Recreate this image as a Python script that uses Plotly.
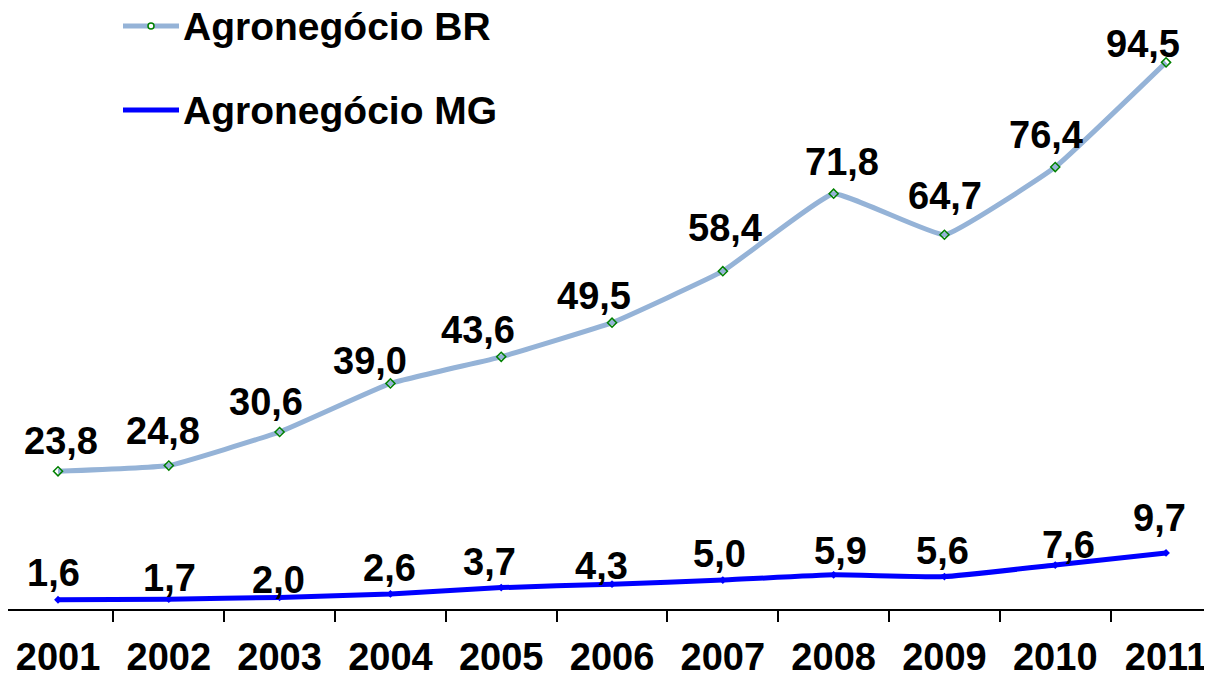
import plotly.graph_objects as go

# Agronegócio exports (US$ bilhões), Brasil vs Minas Gerais
anos = [2001, 2002, 2003, 2004, 2005, 2006, 2007, 2008, 2009, 2010, 2011]
agro_br = [23.8, 24.8, 30.6, 39.0, 43.6, 49.5, 58.4, 71.8, 64.7, 76.4, 94.5]
agro_mg = [1.6, 1.7, 2.0, 2.6, 3.7, 4.3, 5.0, 5.9, 5.6, 7.6, 9.7]
nomes = ["Agronegócio BR", "Agronegócio MG"]

# label nudges (px) - the labels were dragged around by hand in the original
br_dx = [3, -6, -14, -20, -23, -18, 2, 8, 1, -9, -23]
br_dy = [30, 35, 30, 22, 27, 27, 43, 32, 39, 32, 18]
mg_dx = [-5, 1, -1, -1, -12, -11, -3, 7, -2, 13, -7]
mg_dy = [27, 21, 17, 26, 26, 18, 26, 24, 26, 20, 35]

cor_br = "#95B3D7"
cor_mg = "#0000FF"
fonte = dict(family="Liberation Sans, Arial", size=38, color="black")
fonte_leg = dict(family="Liberation Sans, Arial", size=39, color="black")


def rotulo(v):
    return f"{v:.1f}".replace(".", ",")


fig = go.Figure()

fig.add_trace(go.Scatter(
    x=anos, y=agro_br, name=nomes[0], mode="lines+markers",
    line=dict(color=cor_br, width=5, shape="spline", smoothing=0.3),
    marker=dict(symbol="diamond-open", size=7, color="#008000", line=dict(width=1.5)),
    showlegend=False,
))
fig.add_trace(go.Scatter(
    x=anos, y=agro_mg, name=nomes[1], mode="lines+markers",
    line=dict(color=cor_mg, width=5, shape="spline", smoothing=0.3),
    marker=dict(symbol="diamond", size=6, color=cor_mg),
    showlegend=False,
))

anots = []
for serie, dxs, dys in [(agro_br, br_dx, br_dy), (agro_mg, mg_dx, mg_dy)]:
    for ano, v, dx, dy in zip(anos, serie, dxs, dys):
        anots.append(dict(x=ano, y=v, text=f"<b>{rotulo(v)}</b>", showarrow=False,
                          xanchor="center", yanchor="middle", xshift=dx, yshift=dy,
                          font=fonte))

# hand-made legend, top left (pixel positions inside the plot area)
W, H = 1212, 601
for i, (nome, cor) in enumerate(zip(nomes, [cor_br, cor_mg])):
    yp = [18, 102][i]
    fig.add_shape(type="line", xref="paper", yref="paper",
                  x0=115 / W, x1=171 / W, y0=(H - yp) / H, y1=(H - yp) / H,
                  line=dict(color=cor, width=5))
    anots.append(dict(xref="paper", yref="paper", x=173 / W, y=(H - yp - 1) / H,
                      text=f"<b>{nome}</b>", showarrow=False, xanchor="left",
                      yanchor="middle", font=fonte_leg))
fig.add_shape(type="circle", xref="paper", yref="paper",
              x0=140 / W, x1=146 / W, y0=(H - 21) / H, y1=(H - 15) / H,
              line=dict(color="#008000", width=1.5), fillcolor="white")

fig.update_layout(
    width=1212, height=677,
    margin=dict(l=0, r=0, t=0, b=76),
    paper_bgcolor="white", plot_bgcolor="white",
    annotations=anots,
    font=fonte,
)
fig.update_xaxes(
    range=[2000.5487, 2011.487], tickmode="array", tickvals=anos,
    ticktext=[f"<b>{a}</b>" for a in anos], ticks="", tickfont=fonte,
    ticklabelstandoff=13, automargin=False,
    showline=True, linecolor="black", linewidth=2, showgrid=False, zeroline=False,
    minor=dict(ticks="outside", tickmode="linear", tick0=2000.5, dtick=1,
               ticklen=11, tickwidth=2, tickcolor="black", showgrid=False),
)
fig.update_yaxes(range=[0, 103.9], visible=False, showgrid=False, automargin=False)

fig.write_html("out.html")
